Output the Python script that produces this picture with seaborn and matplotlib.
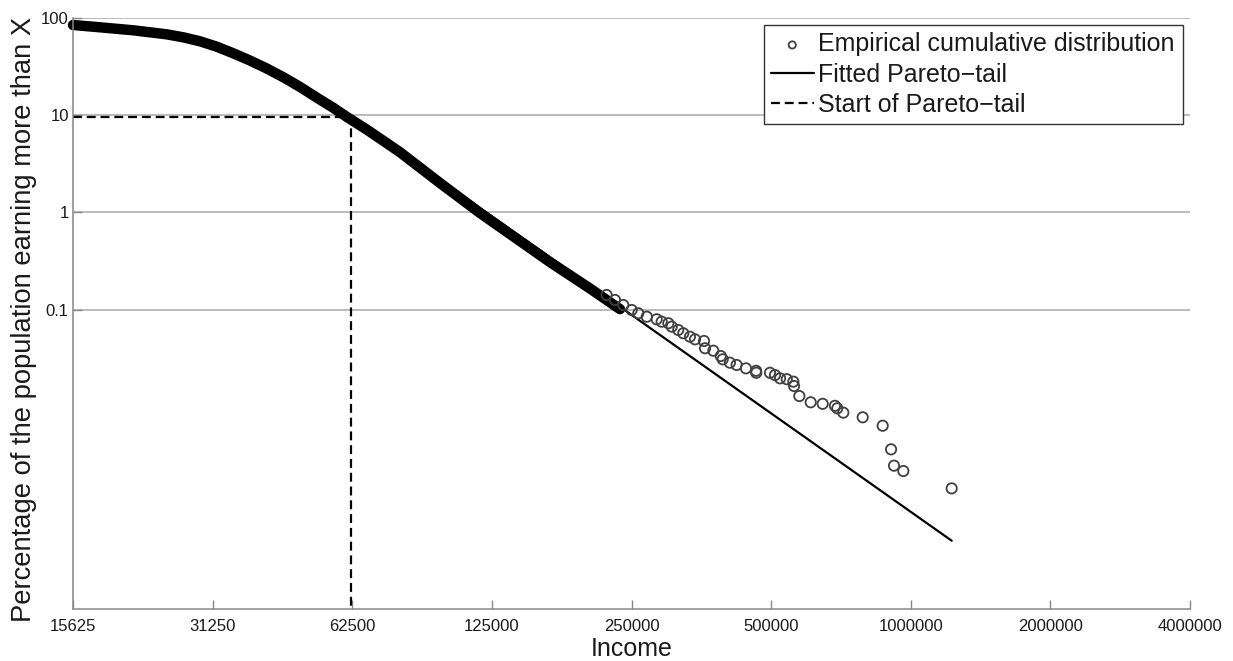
import matplotlib
matplotlib.use("Agg")
import matplotlib.pyplot as plt
import seaborn as sns
from matplotlib.ticker import FixedLocator, FixedFormatter, NullLocator

# Income (X) vs. percentage of the population earning more than X
# dense body of the empirical distribution
body_income = [15625, 17870, 21080, 24880, 27020, 29350, 31890, 34630,
               37620, 40870, 44390, 48230, 52380, 56890, 60790, 67130,
               72900, 79230, 96570, 117800, 166800, 203500, 236100]
body_pct = [83.8, 79.3, 73.9, 67.2, 62.6, 57.0, 50.2, 42.9,
            36.2, 30.0, 24.4, 19.4, 15.1, 11.85, 9.58, 7.10,
            5.44, 4.15, 2.01, 0.99, 0.310, 0.166, 0.102]

# sparse upper tail of the empirical distribution
tail_income = [220900, 230300, 240000, 250200, 258600, 269700, 283300, 290400,
               300200, 305300, 315300, 323300, 334200, 342700, 358300, 360200,
               375300, 389400, 393200, 407500, 421300, 441200, 463900, 464500,
               497200, 509700, 522700, 540300, 558300, 560200, 575200, 608500,
               645800, 686300, 694400, 715500, 787800, 870000, 906900, 920200,
               963800, 1225300]
tail_pct = [0.1426, 0.1267, 0.1125, 0.100, 0.0925, 0.0853, 0.0803, 0.0759,
            0.0731, 0.0675, 0.0624, 0.0577, 0.0532, 0.0500, 0.0481, 0.0405,
            0.0382, 0.0337, 0.0312, 0.0288, 0.0273, 0.0252, 0.0238, 0.0227,
            0.0227, 0.0215, 0.0199, 0.0195, 0.0184, 0.0166, 0.0131, 0.0113,
            0.0109, 0.0104, 0.0098, 0.00885, 0.00793, 0.00650, 0.00372, 0.00253,
            0.00223, 0.00148]

# fitted Pareto tail (straight line in log-log space)
fit_income = [62000, 1225300]
fit_pct = [9.6, 4.30e-4]

# start of the Pareto tail
start_income = 62000
start_pct = 9.6

x_ticks = [15625, 31250, 62500, 125000, 250000, 500000, 1000000, 2000000, 4000000]
x_ticklabels = ["15625", "31250", "62500", "125000", "250000", "500000",
                "1000000", "2000000", "4000000"]
y_ticks = [0.1, 1, 10, 100]
y_ticklabels = ["0.1", "1", "10", "100"]
x_min, x_max = 15625, 4000000
y_min, y_max = 8.57e-5, 100

sns.set_theme(style="white")
plt.rcParams['font.family'] = ['Liberation Sans', 'DejaVu Sans']

W, H = 1233, 661
fig = plt.figure(figsize=(W / 100, H / 100), dpi=100)
ax = fig.add_axes([73 / W, 1 - 609 / H, (1190 - 73) / W, (609 - 17.5) / H])
ax.set_xscale('log')
ax.set_yscale('log')

# empirical distribution: dense body drawn as a solid band of markers
sns.lineplot(x=body_income, y=body_pct, estimator=None, sort=False,
             color='black', linewidth=7.5, solid_capstyle='round',
             solid_joinstyle='round', clip_on=False, legend=False, ax=ax)
sns.scatterplot(x=tail_income, y=tail_pct, marker='o', s=55,
                facecolor='none', edgecolor='#404040', linewidth=1.3,
                label='Empirical cumulative distribution', ax=ax, zorder=3)

sns.lineplot(x=fit_income, y=fit_pct, estimator=None, sort=False,
             color='black', linewidth=1.6,
             label='Fitted Pareto\u2212tail', ax=ax)

sns.lineplot(x=[x_min, start_income, start_income],
             y=[start_pct, start_pct, y_min],
             estimator=None, sort=False, color='black', linewidth=1.6,
             linestyle=(0, (4, 2.2)),
             label='Start of Pareto\u2212tail', ax=ax)

ax.set_xlim(x_min, x_max)
ax.set_ylim(y_min, y_max)

ax.xaxis.set_major_locator(FixedLocator(x_ticks))
ax.xaxis.set_major_formatter(FixedFormatter(x_ticklabels))
ax.xaxis.set_minor_locator(NullLocator())
ax.yaxis.set_major_locator(FixedLocator(y_ticks))
ax.yaxis.set_major_formatter(FixedFormatter(y_ticklabels))
ax.yaxis.set_minor_locator(NullLocator())

ax.tick_params(direction='in', length=6.5, width=1.0, color='#888888',
               labelsize=12, labelcolor='#1a1a1a')
ax.tick_params(axis='x', pad=7)
ax.tick_params(axis='y', pad=3)
ax.tick_params(bottom=True, left=True)

ax.set_axisbelow(True)
ax.yaxis.grid(True, color='#a8a8a8', linewidth=1.1)
ax.xaxis.grid(False)

for side in ('top', 'right'):
    ax.spines[side].set_visible(False)
for side in ('left', 'bottom'):
    ax.spines[side].set_color('#888888')
    ax.spines[side].set_linewidth(1.1)

ax.set_xlabel('Income', fontsize=18, color='#1a1a1a', labelpad=2)
ax.set_ylabel('Percentage of the population earning more than X',
              fontsize=19.7, color='#1a1a1a', labelpad=3)
ax.yaxis.label.set_y(0.489)

handles, labels = ax.get_legend_handles_labels()
order = ['Empirical cumulative distribution', 'Fitted Pareto\u2212tail',
         'Start of Pareto\u2212tail']
hmap = dict(zip(labels, handles))
leg = ax.legend([hmap[o] for o in order], order, loc='upper right',
                fontsize=18, frameon=True, fancybox=False, framealpha=1,
                edgecolor='#333333', borderpad=0.3, labelspacing=0.24,
                handlelength=1.7, handletextpad=0.2, borderaxespad=0.3,
                markerscale=0.7)
leg.get_frame().set_linewidth(1.0)
for t in leg.get_texts():
    t.set_color('#1a1a1a')

fig.savefig('out.png', dpi=100)
